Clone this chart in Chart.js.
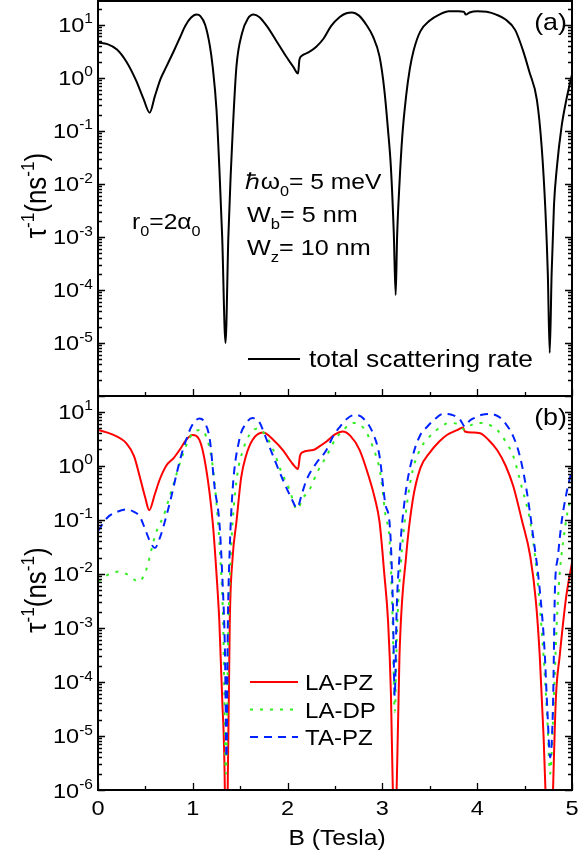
<!DOCTYPE html>
<html>
<head>
<meta charset="utf-8">
<script src="https://cdn.jsdelivr.net/npm/chart.js@4.4.1/dist/chart.umd.min.js"></script>
<style>
  body { margin: 0; background: #fff; }
  #wrap { position: relative; width: 579px; height: 862px; background: #fff; }
  canvas { position: absolute; left: 0; }
</style>
</head>
<body>
<div id="wrap">
  <canvas id="chartA" width="579" height="400" style="top:0;width:579px;height:400px"></canvas>
  <canvas id="chartB" width="579" height="466" style="top:396px;width:579px;height:466px"></canvas>
</div>
<script>
// magnetic field B (Tesla) and scattering rate (1/ns)

// (a) total scattering rate
var bTotal = [0.00, 0.10, 0.20, 0.30, 0.40, 0.48, 0.545, 0.60, 0.66, 0.72, 0.80, 0.86, 0.92, 0.98, 1.04, 1.08,
  1.13, 1.18, 1.21, 1.25, 1.28, 1.31, 1.345, 1.375, 1.40, 1.42, 1.46, 1.52, 1.58, 1.64, 1.70, 1.78, 1.88,
  1.98, 2.06, 2.11, 2.125, 2.15, 2.22, 2.30, 2.38, 2.46, 2.55, 2.62, 2.68, 2.75, 2.83, 2.90, 2.97, 3.02,
  3.06, 3.09, 3.12, 3.14, 3.155, 3.18, 3.21, 3.25, 3.29, 3.33, 3.40, 3.50, 3.60, 3.70, 3.80, 3.86, 3.88, 3.92,
  4.00, 4.10, 4.20, 4.30, 4.40, 4.48, 4.55, 4.63, 4.68, 4.72, 4.745, 4.765, 4.785, 4.81, 4.84, 4.89, 4.94, 5.00];
var rateTotal = [4.6, 4.3, 3.4, 2.0, 0.9, 0.4, 0.22, 0.45, 0.95, 1.6, 3.2, 5.5, 9.5, 13.5, 15.5, 14.5,
  10, 4, 1.6, 0.25, 0.02, 1e-3, 1e-5, 1e-3, 0.015, 0.09, 1.6, 7, 13, 15.5, 14, 9.5, 5,
  2.6, 1.6, 1.2, 2.2, 2.6, 3.0, 3.8, 5.5, 9.5, 14, 16.5, 17, 15, 10, 6, 2.5, 0.6,
  0.1, 0.02, 1.2e-3, 8e-5, 1e-3, 0.01, 0.08, 0.45, 1.5, 3.3, 7.5, 12, 15.5, 18, 18, 17.5, 15.5, 17,
  18, 17.5, 15.5, 12.5, 8, 3.4, 1.3, 0.38, 0.05, 3e-3, 2e-4, 6.5e-6, 2e-4, 4e-3, 0.02, 0.12, 0.38, 1.15];

// (b) LA-PZ
var bLaPz = [0.00, 0.15, 0.30, 0.38, 0.44, 0.50, 0.54, 0.60, 0.65, 0.72, 0.80, 0.86, 0.93, 0.995, 1.07, 1.14,
  1.21, 1.25, 1.28, 1.31, 1.338, 1.352, 1.368, 1.39, 1.42, 1.46, 1.51, 1.56, 1.63, 1.74, 1.85, 1.95, 2.05,
  2.11, 2.13, 2.15, 2.27, 2.34, 2.41, 2.50, 2.58, 2.66, 2.76, 2.86, 2.92, 2.97, 3.02, 3.06, 3.09, 3.11,
  3.13, 3.15, 3.18, 3.25, 3.32, 3.40, 3.50, 3.60, 3.68, 3.78, 3.85, 3.87, 3.95, 4.03, 4.12, 4.21, 4.30,
  4.38, 4.47, 4.56, 4.62, 4.66, 4.70, 4.72, 4.76, 4.80, 4.83, 4.87, 4.94, 5.00];
var rateLaPz = [4.6, 3.8, 2.6, 1.5, 0.63, 0.25, 0.15, 0.3, 0.55, 1.0, 1.4, 1.95, 3.0, 3.7, 3.0, 0.9,
  0.09, 0.01, 1.3e-3, 5e-5, 1e-6, 1e-9, 1e-6, 1.3e-3, 0.02, 0.09, 0.6, 1.5, 3.0, 4.1, 3.0, 1.95, 1.1,
  0.87, 1.5, 1.75, 1.95, 2.3, 2.8, 3.8, 4.3, 3.6, 1.95, 0.6, 0.25, 0.09, 0.01, 1.3e-3, 6e-5, 1e-6,
  1e-9, 1e-6, 3e-4, 0.021, 0.23, 0.9, 1.75, 2.8, 3.7, 4.5, 5.1, 4.3, 4.1, 4.0, 3.0, 1.95, 1.0,
  0.42, 0.1, 0.021, 3e-3, 3e-4, 1e-5, 1e-6, 1e-9, 1e-6, 5e-5, 3e-4, 3.9e-3, 0.016];

// (b) LA-DP
var bLaDp = [0.00, 0.10, 0.22, 0.32, 0.40, 0.44, 0.48, 0.51, 0.55, 0.58, 0.63, 0.69, 0.75, 0.80, 0.87, 0.94,
  1.00, 1.08, 1.14, 1.20, 1.25, 1.29, 1.32, 1.35, 1.375, 1.40, 1.42, 1.47, 1.53, 1.60, 1.69, 1.77, 1.85,
  1.93, 2.02, 2.10, 2.16, 2.23, 2.32, 2.41, 2.50, 2.59, 2.69, 2.80, 2.90, 2.98, 3.03, 3.08, 3.11, 3.13,
  3.155, 3.20, 3.26, 3.32, 3.41, 3.50, 3.60, 3.71, 3.80, 3.87, 3.94, 4.03, 4.12, 4.21, 4.30, 4.38, 4.47,
  4.56, 4.63, 4.70, 4.74, 4.77, 4.80, 4.84, 4.87, 4.91, 4.95, 5.00];
var rateLaDp = [0.0072, 0.0095, 0.011, 0.0095, 0.0075, 0.0072, 0.009, 0.012, 0.022, 0.037, 0.07, 0.115, 0.25, 0.48, 1.2, 2.6,
  4.0, 4.6, 3.5, 1.3, 0.2, 0.02, 1.3e-3, 2e-6, 1e-3, 0.02, 0.09, 0.7, 1.95, 3.8, 4.9, 3.6, 1.95,
  0.8, 0.36, 0.155, 0.25, 0.36, 0.8, 1.5, 3.0, 4.6, 6.2, 5.0, 2.2, 0.7, 0.13, 0.032, 1e-3, 2.8e-5,
  1e-3, 0.021, 0.2, 0.83, 2.2, 3.5, 5.0, 6.2, 5.8, 4.6, 5.7, 6.2, 5.8, 4.6, 2.8, 1.5, 0.4,
  0.09, 0.01, 3e-4, 2e-5, 2e-6, 2e-5, 1.3e-3, 0.01, 0.043, 0.13, 0.32];

// (b) TA-PZ
var bTaPz = [0.00, 0.10, 0.20, 0.30, 0.38, 0.44, 0.50, 0.54, 0.60, 0.65, 0.72, 0.78, 0.83, 0.88, 0.93, 0.99,
  1.07, 1.12, 1.18, 1.23, 1.28, 1.31, 1.34, 1.355, 1.37, 1.39, 1.42, 1.49, 1.56, 1.63, 1.70, 1.78, 1.87,
  1.95, 2.04, 2.10, 2.15, 2.20, 2.30, 2.41, 2.48, 2.55, 2.63, 2.71, 2.80, 2.90, 2.97, 3.03, 3.08, 3.11,
  3.13, 3.15, 3.18, 3.24, 3.32, 3.40, 3.47, 3.55, 3.64, 3.73, 3.82, 3.87, 3.92, 3.98, 4.05, 4.13, 4.23,
  4.30, 4.38, 4.45, 4.52, 4.59, 4.66, 4.71, 4.74, 4.77, 4.80, 4.82, 4.85, 4.89, 4.94, 5.00];
var rateTaPz = [0.062, 0.11, 0.14, 0.155, 0.14, 0.115, 0.065, 0.043, 0.030, 0.045, 0.115, 0.3, 0.72, 1.6, 3.0, 5.5,
  7.5, 6.5, 3.0, 0.4, 0.09, 0.01, 3e-4, 4e-6, 1.3e-3, 0.03, 0.36, 3.0, 6.0, 7.6, 6.5, 3.0, 1.2,
  0.55, 0.25, 0.165, 0.3, 0.55, 1.1, 1.95, 3.5, 5.2, 7.5, 8.7, 7.5, 4.0, 1.5, 0.2, 0.07, 3e-3,
  5.5e-5, 2e-3, 0.021, 0.27, 1.5, 3.7, 5.2, 7.2, 9.1, 8.8, 7.1, 5.3, 6.8, 7.8, 8.8, 9.1, 8.0,
  6.0, 3.5, 1.5, 0.36, 0.05, 5e-3, 4e-4, 3e-5, 4e-6, 4e-5, 5e-3, 0.02, 0.09, 0.3, 0.85];

// axis ticks
var xTickLabels = ['0', '1', '2', '3', '4', '5'];
var yExpTop = [1, 0, -1, -2, -3, -4, -5];
var yExpBottom = [1, 0, -1, -2, -3, -4, -5, -6];

var FONT = '"Liberation Sans", Arial, Helvetica, sans-serif';
var SX = 1.12; // the original lettering is a bit wide

function pts(xs, ys) {
  return xs.map(function (x, i) { return { x: x, y: ys[i] }; });
}

// width of text made of runs: [text, 0 normal | 1 superscript | -1 subscript]
function runsWidth(ctx, runs, size) {
  var w = 0;
  runs.forEach(function (r) {
    ctx.font = (r[1] ? size * 0.66 : size) + 'px ' + FONT;
    w += ctx.measureText(r[0]).width;
  });
  return w;
}
function drawRuns(ctx, x, y, runs, size, sx) {
  sx = sx || 1;
  ctx.save();
  ctx.translate(x, y);
  ctx.scale(sx, 1);
  var cx = 0;
  runs.forEach(function (r) {
    var s = r[1] ? size * 0.66 : size;
    var dy = r[1] == 1 ? -size * 0.42 : (r[1] == -1 ? size * 0.3 : 0);
    ctx.font = s + 'px ' + FONT;
    ctx.fillText(r[0], cx, dy);
    cx += ctx.measureText(r[0]).width;
  });
  ctx.restore();
  return x + cx * sx;
}

function framePlugin(opts) {
  return {
    id: 'frame' + opts.tag,
    afterDraw: function (chart) {
      var ctx = chart.ctx;
      var a = chart.chartArea;
      var xs = chart.scales.x, ys = chart.scales.y;
      ctx.save();
      ctx.strokeStyle = '#000';
      ctx.fillStyle = '#000';
      ctx.textAlign = 'left';
      ctx.textBaseline = 'alphabetic';

      // box
      ctx.lineWidth = 2;
      ctx.strokeRect(a.left, a.top, a.right - a.left, a.bottom - a.top);

      // y ticks, both sides, pointing in
      ctx.lineWidth = 1.3;
      ctx.beginPath();
      for (var k = -7; k <= 2; k++) {
        for (var m = 1; m <= 9; m++) {
          var v = m * Math.pow(10, k);
          if (v < ys.min * 0.999 || v > ys.max) continue;
          var py = Math.round(ys.getPixelForValue(v)) + 0.5;
          var len = m == 1 ? 7 : 4;
          ctx.moveTo(a.left, py); ctx.lineTo(a.left + len, py);
          ctx.moveTo(a.right, py); ctx.lineTo(a.right - len, py);
        }
      }
      // x ticks at the bottom, pointing up
      for (var t = 0; t <= 10; t++) {
        var px = Math.round(xs.getPixelForValue(t / 2)) + 0.5;
        ctx.moveTo(px, a.bottom); ctx.lineTo(px, a.bottom - (t % 2 ? 4 : 7));
      }
      ctx.stroke();

      // y tick labels 10^n
      opts.exps.forEach(function (e) {
        var py = ys.getPixelForValue(Math.pow(10, e));
        var runs = [['10', 0], [String(e), 1]];
        var w = runsWidth(ctx, runs, 21) * SX;
        drawRuns(ctx, 93 - w, py + 7.5, runs, 21, SX);
      });

      // x tick labels and title
      if (opts.xLabels) {
        xTickLabels.forEach(function (l) {
          var w = runsWidth(ctx, [[l, 0]], 21) * SX;
          drawRuns(ctx, xs.getPixelForValue(Number(l)) - w / 2, a.bottom + 25, [[l, 0]], 21, SX);
        });
        var tw0 = runsWidth(ctx, [['B (Tesla)', 0]], 22) * SX;
        drawRuns(ctx, (a.left + a.right) / 2 + 2 - tw0 / 2, a.bottom + 55, [['B (Tesla)', 0]], 22, SX);
      }

      // y axis title, rotated
      var titleRuns = [['\u03C4', 0], ['-1', 1], ['(ns', 0], ['-1', 1], [')', 0]];
      var tw = runsWidth(ctx, titleRuns, 26);
      ctx.save();
      ctx.translate(46, (a.top + a.bottom) / 2 - 3);
      ctx.rotate(-Math.PI / 2);
      ctx.scale(1, SX);
      drawRuns(ctx, -tw / 2, 0, titleRuns, 26, 1);
      ctx.restore();

      // panel letter
      var lw = runsWidth(ctx, [[opts.letter, 0]], 24) * SX;
      drawRuns(ctx, a.right - 5 - lw, a.top + 29, [[opts.letter, 0]], 24, SX);

      if (opts.draw) opts.draw(ctx, a);
      ctx.restore();
    }
  };
}

function baseOptions(pad, yMax) {
  return {
    responsive: false,
    animation: false,
    layout: { padding: pad },
    plugins: { legend: { display: false }, tooltip: { enabled: false } },
    elements: { point: { radius: 0 }, line: { cubicInterpolationMode: 'monotone' } },
    scales: {
      x: { type: 'linear', min: 0, max: 5, display: false },
      y: { type: 'logarithmic', min: 1e-6, max: yMax, display: false }
    }
  };
}

// panel (a)
new Chart(document.getElementById('chartA'), {
  type: 'line',
  data: {
    datasets: [{
      label: 'total scattering rate',
      data: pts(bTotal, rateTotal),
      borderColor: '#000', borderWidth: 2
    }]
  },
  options: baseOptions({ left: 98, right: 7, top: 1, bottom: 4 }, 28),
  plugins: [framePlugin({
    tag: 'a', exps: yExpTop, xLabels: false, letter: '(a)',
    draw: function (ctx, a) {
      drawRuns(ctx, 132, 229, [['r', 0], ['0', -1], ['=2\u03B1', 0], ['0', -1]], 22, SX);
      drawRuns(ctx, 245, 189, [['\u210F\u03C9', 0], ['0', -1], ['= 5 meV', 0]], 22, SX);
      drawRuns(ctx, 247, 222, [['W', 0], ['b', -1], ['= 5 nm', 0]], 22.5, SX);
      drawRuns(ctx, 247, 255, [['W', 0], ['z', -1], ['= 10 nm', 0]], 22.5, SX);
      ctx.lineWidth = 2;
      ctx.beginPath(); ctx.moveTo(248, 359); ctx.lineTo(300, 359); ctx.stroke();
      drawRuns(ctx, 309, 367, [['total scattering rate', 0]], 23.5, SX);
    }
  })]
});

// panel (b)
var legendB = [
  { name: 'LA-PZ', color: '#ff0000', dash: [] },
  { name: 'LA-DP', color: '#33ee22', dash: [3, 7] },
  { name: 'TA-PZ', color: '#0022ff', dash: [8, 6] }
];

new Chart(document.getElementById('chartB'), {
  type: 'line',
  data: {
    datasets: [
      { label: 'TA-PZ', data: pts(bTaPz, rateTaPz), borderColor: '#0022ff', borderWidth: 2, borderDash: [8, 6] },
      { label: 'LA-DP', data: pts(bLaDp, rateLaDp), borderColor: '#33ee22', borderWidth: 2, borderDash: [3, 7] },
      { label: 'LA-PZ', data: pts(bLaPz, rateLaPz), borderColor: '#ff0000', borderWidth: 2 }
    ]
  },
  options: baseOptions({ left: 98, right: 7, top: 0, bottom: 72 }, 19.5),
  plugins: [framePlugin({
    tag: 'b', exps: yExpBottom, xLabels: true, letter: '(b)',
    draw: function (ctx, a) {
      legendB.forEach(function (l, i) {
        var y = 286 + i * 27.5;
        ctx.strokeStyle = l.color;
        ctx.lineWidth = 2;
        ctx.setLineDash(l.dash);
        ctx.beginPath(); ctx.moveTo(250, y); ctx.lineTo(298, y); ctx.stroke();
        ctx.setLineDash([]);
        ctx.fillStyle = '#000';
        drawRuns(ctx, 305, y + 8, [[l.name, 0]], 21.5, SX);
      });
    }
  })]
});
</script>
</body>
</html>
